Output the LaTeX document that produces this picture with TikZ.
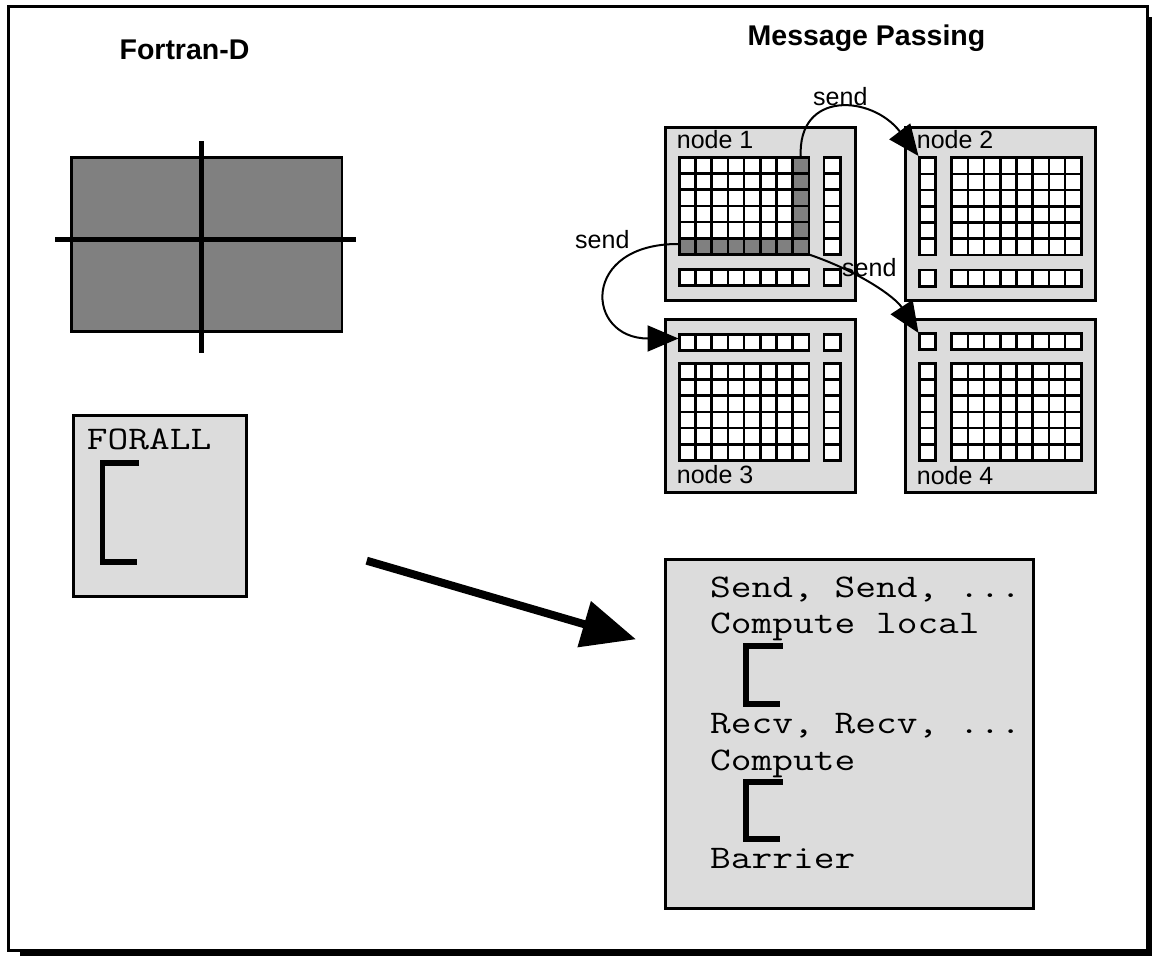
\documentclass[tikz,border=0pt]{standalone}
\usepackage{fontspec}
\setmainfont{Liberation Sans}
\setsansfont{Liberation Sans}
\setmonofont[FakeStretch=1.22]{Latin Modern Mono}
\usetikzlibrary{arrows.meta}
\definecolor{panel}{gray}{0.863}
\definecolor{shade}{gray}{0.5}

\tikzset{
  frame/.style={draw=black, line width=3pt, fill=white},
  boxline/.style={draw=black, line width=2.5pt},
  nodebox/.style={boxline, fill=panel, anchor=north west,
    inner sep=0pt, minimum width=190pt, minimum height=173pt},
  cellline/.style={draw=black, line width=2.6pt},
  lbl/.style={font=\fontsize{25pt}{30pt}\selectfont, inner sep=0pt, anchor=base west},
  title/.style={font=\fontsize{28.5pt}{34pt}\selectfont\bfseries, inner sep=0pt, anchor=base},
  mono/.style={font=\fontsize{33pt}{40pt}\selectfont\ttfamily, inner sep=0pt, anchor=base west},
  brk/.style={draw=black, line width=5.5pt, line join=miter},
  sendarrow/.style={draw=black, line width=2pt, -{Triangle[length=31pt,width=26pt]}},
  bigarrow/.style={draw=black, line width=8pt, -{Triangle[length=54pt,width=46pt]}},
}

% a block of square cells: x0, y0, columns, rows, fill colour
\newcommand\cellblock[5]{%
  \foreach \ci in {1,...,#3}{%
    \foreach \cj in {1,...,#4}{%
      \draw[cellline,fill=#5] ({#1+(\ci-1)*16.2},{#2+(\cj-1)*16.2}) rectangle ++(16.2,16.2);
    }}}

\begin{document}
\begin{tikzpicture}[x=1pt,y=-1pt]
\useasboundingbox (0,0) rectangle (1152,956);
\clip (0,0) rectangle (1152,956);

% outer frame with its shadow
\fill[black] (20,17) rectangle (1165,970);
\draw[frame] (8.5,6.5) rectangle (1147.5,950);

% ---------- left side: Fortran-D ----------
\node[title] (tfd) at (184.5,59) {Fortran-D};

\draw[boxline, fill=shade] (71.7,157.7) rectangle (342,331.7);
\draw[black, line width=4.5pt] (201.7,141) -- (201.7,353);
\draw[black, line width=4.5pt] (55,239.3) -- (355.7,239.3);

\node[boxline, fill=panel, anchor=north west, inner sep=0pt,
      minimum width=172.7pt, minimum height=180.7pt] (forall) at (72.3,414.3) {};
\node[mono] (tfa) at (86.7,449) {FORALL};
\draw[brk] (139,463) -- (102.7,463) -- (102.7,562) -- (137,562);

% ---------- right side: Message Passing ----------
\node[title] (tmp) at (866.5,45) {Message Passing};

% node 1
\node[nodebox] (n1) at (664,126) {};
\node[lbl] (l1) at (676.7,148) {node 1};
\cellblock{679.3}{157.3}{8}{6}{white}
\cellblock{792.7}{157.3}{1}{6}{shade}
\cellblock{679.3}{238.3}{8}{1}{shade}
\cellblock{824}{157.3}{1}{6}{white}
\cellblock{679.3}{269.3}{8}{1}{white}
\cellblock{824}{269.3}{1}{1}{white}

% node 2
\node[nodebox] (n2) at (904,126) {};
\node[lbl] (l2) at (916.7,148) {node 2};
\cellblock{919.3}{157.7}{1}{6}{white}
\cellblock{951.7}{157.7}{8}{6}{white}
\cellblock{919.3}{270}{1}{1}{white}
\cellblock{951.7}{270}{8}{1}{white}

% node 3
\node[nodebox] (n3) at (664,318.3) {};
\node[lbl] (l3) at (676.7,483) {node 3};
\cellblock{679.3}{334.3}{8}{1}{white}
\cellblock{824}{334.3}{1}{1}{white}
\cellblock{679.3}{363.3}{8}{6}{white}
\cellblock{824}{363.3}{1}{6}{white}

% node 4
\node[nodebox] (n4) at (904,318.3) {};
\node[lbl] (l4) at (916.7,484) {node 4};
\cellblock{919.3}{333.5}{1}{1}{white}
\cellblock{951.7}{333.5}{8}{1}{white}
\cellblock{919.3}{363.3}{1}{6}{white}
\cellblock{951.7}{363.3}{8}{6}{white}

% ends of the send arrows
\coordinate (colTop) at (800.8,157.3);
\coordinate (rowLeft) at (679.3,244);
\coordinate (gridCorner) at (809,254.5);
\coordinate (in2) at (918.5,156);
\coordinate (in3) at (678.5,338.5);
\coordinate (in4) at (918.5,333);

\draw[sendarrow] (colTop) .. controls (797,90) and (872,95) .. (in2);
\draw[sendarrow] (rowLeft) .. controls (580,243) and (585,338.5) .. (in3);
\draw[sendarrow] (gridCorner) .. controls (860,272) and (895,297) .. (in4);

\node[lbl] (s1) at (813,105) {send};
\node[lbl] (s2) at (575,248) {send};
\node[lbl] (s3) at (842,276.7) {send};

% ---------- generated code ----------
\node[boxline, fill=panel, anchor=north west, inner sep=0pt,
      minimum width=368pt, minimum height=349pt] (code) at (664,558.3) {};
\node[mono] (c1) at (710,597) {Send, Send, ...};
\node[mono] (c2) at (710,633) {Compute local};
\draw[brk] (782.7,646) -- (746,646) -- (746,704) -- (780,704);
\node[mono] (c3) at (710,733) {Recv, Recv, ...};
\node[mono] (c4) at (710,770) {Compute};
\draw[brk] (782.7,782) -- (746,782) -- (746,839) -- (780,839);
\node[mono] (c5) at (710,868) {Barrier};

% translation arrow
\coordinate (aStart) at (366.7,560.7);
\coordinate (aEnd) at (636,639.3);
\draw[bigarrow] (aStart) -- (aEnd);
\end{tikzpicture}
\end{document}
